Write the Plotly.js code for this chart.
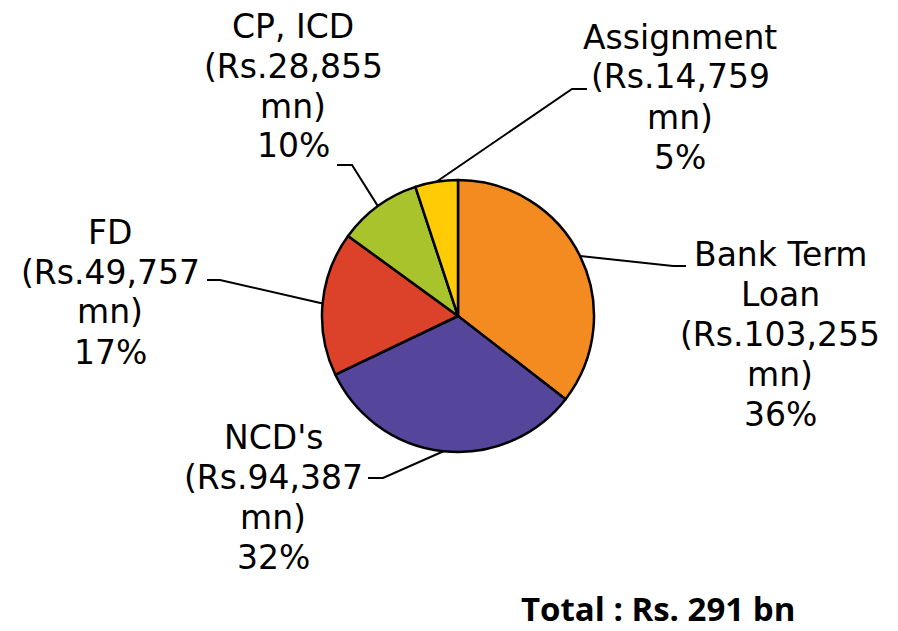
<!DOCTYPE html>
<html>
<head>
<meta charset="utf-8">
<script src="https://cdn.plot.ly/plotly-3.0.1.min.js"></script>
<style>html,body{margin:0;padding:0;background:#fff;}#chart{width:898px;height:631px;}</style>
</head>
<body>
<div id="chart"></div>
<script>
// ---- data ----
const categories = ["Bank Term Loan", "NCD's", "FD", "CP, ICD", "Assignment"];
const categoryLines = [["Bank Term", "Loan"], ["NCD's"], ["FD"], ["CP, ICD"], ["Assignment"]];
const amountsMn = [103255, 94387, 49757, 28855, 14759];
const pctLabels = ["36%", "32%", "17%", "10%", "5%"];
const totalLabel = "Total : Rs. 291 bn";
const sliceColors = ["#F48B20", "#55469B", "#DB4229", "#A9C32D", "#FFCB05"];

// ---- layout constants (pixels) ----
const W = 898, H = 631;
const CX = 458, CY = 316, R = 136;
const PITCH = 40;
// label block centre and leader elbow / end for each slice
const labelPos = [
  {x: 780, y: 334, elbow: [673, 266], end: [686, 266]},
  {x: 273, y: 497, elbow: [383, 478], end: [368, 478]},
  {x: 110, y: 292, elbow: [220, 280], end: [207, 280]},
  {x: 293, y: 86,  elbow: [352, 165], end: [337, 165]},
  {x: 680, y: 97,  elbow: [572, 89],  end: [587, 89]}
];

function fmt(n) { return n.toString().replace(/\B(?=(\d{3})+(?!\d))/g, ","); }
const px = x => x / W;
const py = y => 1 - y / H;

const total = amountsMn.reduce((a, b) => a + b, 0);
const annotations = [];
const shapes = [];
let cum = 0;
amountsMn.forEach((v, i) => {
  const mid = (cum + v / 2) / total;
  cum += v;
  const ang = mid * 2 * Math.PI; // clockwise from 12 o'clock
  const sx = CX + R * Math.sin(ang);
  const sy = CY - R * Math.cos(ang);
  const L = labelPos[i];
  shapes.push({
    type: 'path', xref: 'paper', yref: 'paper',
    path: `M ${px(sx)} ${py(sy)} L ${px(L.elbow[0])} ${py(L.elbow[1])} L ${px(L.end[0])} ${py(L.end[1])}`,
    line: {color: '#000', width: 2}
  });
  const lines = categoryLines[i].concat(['(Rs.' + fmt(v), 'mn)', pctLabels[i]]);
  const n = lines.length;
  lines.forEach((t, k) => {
    annotations.push({
      xref: 'paper', yref: 'paper', x: px(L.x), y: py(L.y + (k - (n - 1) / 2) * PITCH),
      xanchor: 'center', yanchor: 'middle', showarrow: false, align: 'center',
      text: t,
      font: {family: 'DejaVu Sans, Arial, sans-serif', size: 33, color: '#000'}
    });
  });
});
annotations.push({
  xref: 'paper', yref: 'paper', x: px(658), y: py(608),
  xanchor: 'center', yanchor: 'middle', showarrow: false,
  text: '<b>' + totalLabel + '</b>',
  font: {family: 'Open Sans, Lato, sans-serif', size: 33, color: '#000'}
});

const trace = {
  type: 'pie',
  labels: categories,
  values: amountsMn,
  sort: false,
  direction: 'clockwise',
  rotation: 0,
  textinfo: 'none',
  hoverinfo: 'none',
  marker: {colors: sliceColors, line: {color: '#000', width: 2.5}},
  domain: {x: [px(CX - R), px(CX + R)], y: [py(CY + R), py(CY - R)]},
  showlegend: false
};

Plotly.newPlot('chart', [trace], {
  width: W, height: H,
  margin: {l: 0, r: 0, t: 0, b: 0},
  paper_bgcolor: '#fff',
  showlegend: false,
  annotations: annotations,
  shapes: shapes
}, {staticPlot: true});
</script>
</body>
</html>
